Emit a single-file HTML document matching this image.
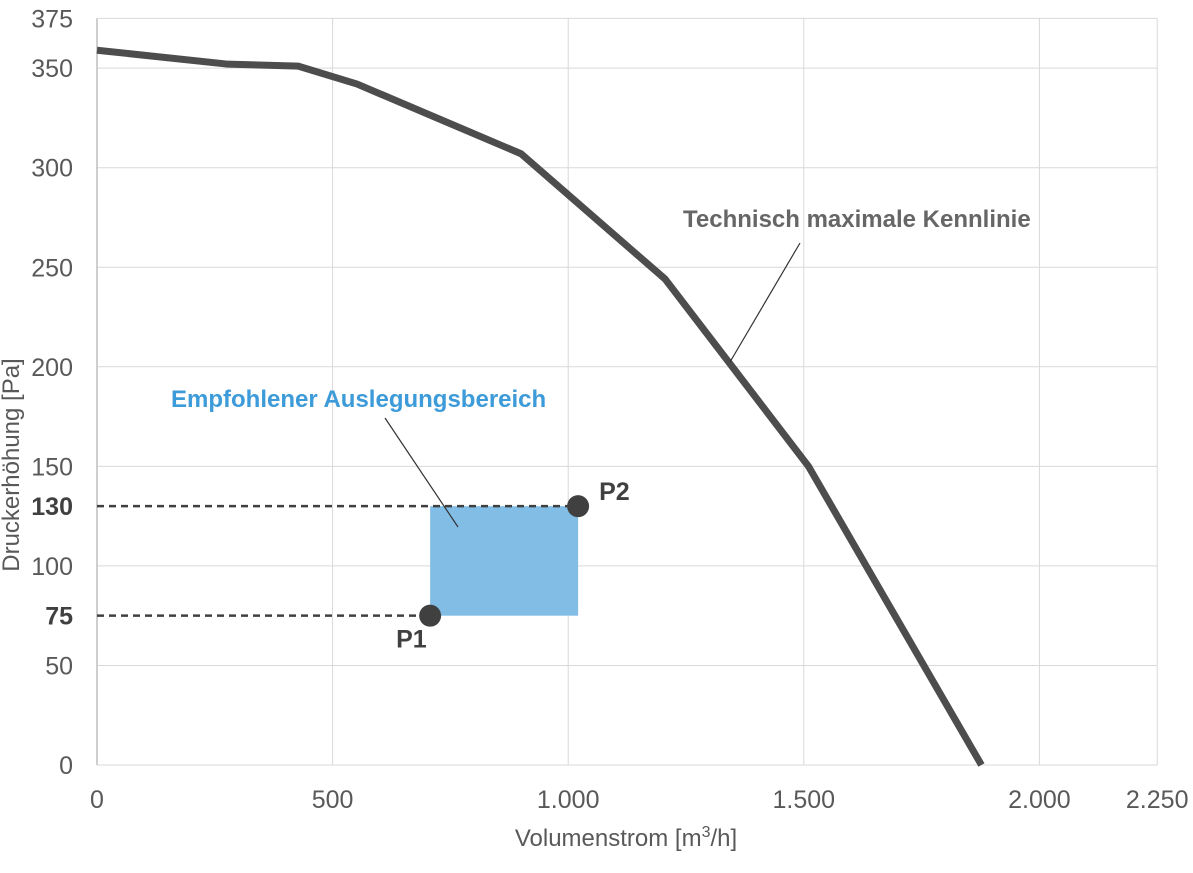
<!DOCTYPE html>
<html><head><meta charset="utf-8"><style>
html,body{margin:0;padding:0;background:#fff;}
svg text{font-family:"Liberation Sans Narrow","Liberation Sans",sans-serif;}
</style></head><body>
<svg id="c" width="1193" height="868" xmlns="http://www.w3.org/2000/svg"></svg>
<script>
const xTicks=[0,500,1000,1500,2000,2250];
const xTickLabels=["0","500","1.000","1.500","2.000","2.250"];
const yTicks=[0,50,100,150,200,250,300,350,375];
const curveX=[0,278,427,552,900,1206,1510,1877];
const curveY=[359,352,351,342,307,244,150,0];
const p1=[707,75];
const p2=[1021,130];
const NS="http://www.w3.org/2000/svg";
const svg=document.getElementById('c');
const X=v=>97+v*0.4712;
const Y=v=>765-v*1.991;
function el(t,a,txt){const e=document.createElementNS(NS,t);for(const k in a)e.setAttribute(k,a[k]);if(txt!==undefined)e.textContent=txt;svg.appendChild(e);return e;}
// grid
yTicks.forEach(v=>{const g=el('line',{x1:X(0),x2:X(2250),y1:Y(v),y2:Y(v),stroke:'#d9d9d9','stroke-width':1});

const t=el('text',{x:73,y:Y(v)+9,'text-anchor':'end','font-size':25,fill:'#595959'},v);
});
xTicks.forEach((v,i)=>{const g=el('line',{x1:X(v),x2:X(v),y1:Y(375),y2:Y(0),stroke:'#d9d9d9','stroke-width':1});

const t=el('text',{x:X(v)+(i==0?0:0),y:808,'text-anchor':'middle','font-size':25,fill:'#595959'},xTickLabels[i]);
});
const ax=el('line',{x1:X(0),x2:X(0),y1:Y(375),y2:Y(0),stroke:'#bfbfbf','stroke-width':1.5});

// range rect
const r=el('rect',{x:X(p1[0]),y:Y(p2[1]),width:X(p2[0])-X(p1[0]),height:Y(p1[1])-Y(p2[1]),fill:'#82bde6'});

// dashed
[p1,p2].forEach(p=>{const d=el('line',{x1:X(0),x2:X(p[0]),y1:Y(p[1]),y2:Y(p[1]),stroke:'#404040','stroke-width':2.5,'stroke-dasharray':'7,5'});

const t=el('text',{x:73,y:Y(p[1])+9,'text-anchor':'end','font-size':25,fill:'#404040','font-weight':'bold'},p[1]);
});
// curve
const pl=el('polyline',{points:curveX.map((x,i)=>X(x)+','+Y(curveY[i])).join(' '),fill:'none',stroke:'#4d4d4d','stroke-width':7,'stroke-linejoin':'round'});

// points
[[p1,'P1',X(p1[0])-34,Y(p1[1])+32],[p2,'P2',X(p2[0])+21,Y(p2[1])-6]].forEach(q=>{
const c=el('circle',{cx:X(q[0][0]),cy:Y(q[0][1]),r:11,fill:'#404040'});

const t=el('text',{x:q[2],y:q[3],'font-size':25,fill:'#404040','font-weight':'bold'},q[1]);
});
// annotations
let l=el('line',{x1:800,y1:243,x2:730,y2:362,stroke:'#333','stroke-width':1.2});

let t=el('text',{x:683,y:227,'font-size':24,fill:'#666','font-weight':'bold'},'Technisch maximale Kennlinie');

l=el('line',{x1:385,y1:418,x2:458,y2:527,stroke:'#333','stroke-width':1.2});

t=el('text',{x:171,y:407,'font-size':24,fill:'#3c9bd8','font-weight':'bold'},'Empfohlener Auslegungsbereich');

// axis titles
t=el('text',{x:626,y:846,'text-anchor':'middle','font-size':24,fill:'#595959'});
t.innerHTML='Volumenstrom [m<tspan dy="-9" font-size="16">3</tspan><tspan dy="9">/h]</tspan>';

t=el('text',{x:0,y:0,'text-anchor':'middle','font-size':24,fill:'#595959',transform:'translate(19,465) rotate(-90)'},'Druckerhöhung [Pa]');

</script>
</body></html>
